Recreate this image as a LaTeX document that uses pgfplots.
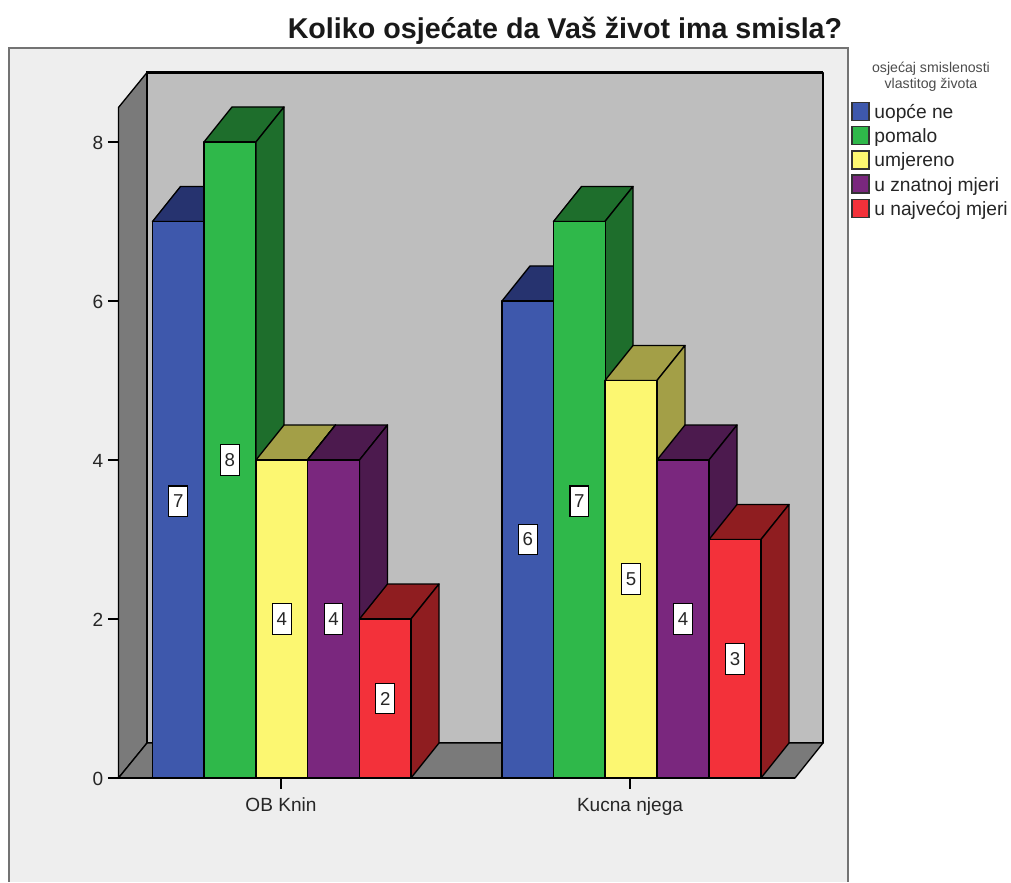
\documentclass[border=0pt]{standalone}
\usepackage{pgfplots}
\pgfplotsset{compat=1.18}
\usepackage{fontspec}
\setmainfont{Liberation Sans}
\definecolor{panel}{HTML}{EEEEEE}
\definecolor{wall}{HTML}{BEBEBE}
\definecolor{side}{HTML}{7A7A7A}
\definecolor{cA}{HTML}{3E58AC}\definecolor{dA}{HTML}{26336F}
\definecolor{cB}{HTML}{2FB84A}\definecolor{dB}{HTML}{1E6E2C}
\definecolor{cC}{HTML}{FCF771}\definecolor{dC}{HTML}{A39F47}
\definecolor{cD}{HTML}{7A277E}\definecolor{dD}{HTML}{4C1A4E}
\definecolor{cE}{HTML}{F3313A}\definecolor{dE}{HTML}{8F1D20}
\tikzset{
  face/.style={draw=black,line width=1pt,line join=round},
  val/.style={draw=black,fill=white,line width=0.8pt,inner sep=0pt,minimum width=14pt,minimum height=23pt,font=\fontsize{14}{15}\selectfont,text=black!85},
}
\pgfplotsset{
  front/.style={ybar,bar shift=0pt,bar width=38.8pt,face,forget plot},
}
\begin{document}
\begin{tikzpicture}
\begin{axis}[
  scale only axis,width=507.4pt,height=502.9pt,
  xmin=118.5,xmax=795,ymin=0,ymax=8.434,
  clip=false,axis on top,
  axis x line=bottom,axis y line=left,
  axis line style={-,black,line width=1.1pt},
  xtick={281,630},xticklabels={OB Knin,Kucna njega},
  ytick={0,2,4,6,8},
  tick align=outside,major tick length=8pt,
  tick style={black,line width=0.9pt},
  /pgf/number format/assume math mode=true,
  tick label style={font=\fontsize{14.3}{15}\selectfont,text=black!85},
  xticklabel style={yshift=-3.5pt},
  yticklabel style={yshift=-0.8pt},
  legend cell align=left,
  legend image code/.code={\draw[#1,line width=1.1pt] (0pt,-6.75pt) rectangle (12.75pt,6.75pt);},
  legend style={at={(axis cs:851,8.542)},anchor=north west,draw=none,fill=none,inner sep=0pt,
    row sep=0pt,column sep=3.5pt,font=\fontsize{14.4}{15}\selectfont,text=black!85,
    nodes={inner sep=0pt,text height=14.35pt,text depth=3.85pt}},
]
% page and chart panel
\addplot[forget plot,draw=none,fill=white] coordinates {(0,-1.308)(1011,-1.308)(1011,9.786)(0,9.786)} --cycle;
\addplot[forget plot,draw=none,fill=panel] coordinates {(9,-1.308)(848,-1.308)(848,9.182)(9,9.182)} --cycle;
\addplot[forget plot,draw=black!55,line width=1.2pt] coordinates {(9,-1.308)(9,9.182)(848,9.182)(848,-1.308)};
% walls and floor
\addplot[forget plot,fill=wall,face] coordinates {(147,0.44)(823,0.44)(823,8.874)(147,8.874)} --cycle;
\addplot[forget plot,fill=side,face] coordinates {(118.5,0)(147,0.44)(147,8.874)(118.5,8.434)} --cycle;
\addplot[forget plot,fill=side,face] coordinates {(118.5,0)(795,0)(823,0.44)(147,0.44)} --cycle;
\addplot[forget plot,draw=black,line width=1.8pt] coordinates {(147,0.44)(147,8.874)(823,8.874)};
% series 1: uopce ne
\addplot[forget plot,fill=dA,face] coordinates {(152.5,7)(180.5,7.44)(232,7.44)(204,7)} --cycle;
\addplot[forget plot,fill=dA,face] coordinates {(204,0)(232,0.44)(232,7.44)(204,7)} --cycle;
\addplot[forget plot,fill=dA,face] coordinates {(502,6)(530,6.44)(581.5,6.44)(553.5,6)} --cycle;
\addplot[forget plot,fill=dA,face] coordinates {(553.5,0)(581.5,0.44)(581.5,6.44)(553.5,6)} --cycle;
\addplot[front,fill=cA] coordinates {(178.2,7)(527.8,6)};
% series 2: pomalo
\addplot[forget plot,fill=dB,face] coordinates {(204,8)(232,8.44)(284,8.44)(256,8)} --cycle;
\addplot[forget plot,fill=dB,face] coordinates {(256,0)(284,0.44)(284,8.44)(256,8)} --cycle;
\addplot[forget plot,fill=dB,face] coordinates {(553.5,7)(581.5,7.44)(633,7.44)(605,7)} --cycle;
\addplot[forget plot,fill=dB,face] coordinates {(605,0)(633,0.44)(633,7.44)(605,7)} --cycle;
\addplot[front,fill=cB] coordinates {(229.9,8)(579.3,7)};
% series 3: umjereno
\addplot[forget plot,fill=dC,face] coordinates {(256,4)(284,4.44)(335.5,4.44)(307.5,4)} --cycle;
\addplot[forget plot,fill=dC,face] coordinates {(307.5,0)(335.5,0.44)(335.5,4.44)(307.5,4)} --cycle;
\addplot[forget plot,fill=dC,face] coordinates {(605,5)(633,5.44)(685,5.44)(657,5)} --cycle;
\addplot[forget plot,fill=dC,face] coordinates {(657,0)(685,0.44)(685,5.44)(657,5)} --cycle;
\addplot[front,fill=cC] coordinates {(281.8,4)(631,5)};
% series 4: u znatnoj mjeri
\addplot[forget plot,fill=dD,face] coordinates {(307.5,4)(335.5,4.44)(387.5,4.44)(359.5,4)} --cycle;
\addplot[forget plot,fill=dD,face] coordinates {(359.5,0)(387.5,0.44)(387.5,4.44)(359.5,4)} --cycle;
\addplot[forget plot,fill=dD,face] coordinates {(657,4)(685,4.44)(737,4.44)(709,4)} --cycle;
\addplot[forget plot,fill=dD,face] coordinates {(709,0)(737,0.44)(737,4.44)(709,4)} --cycle;
\addplot[front,fill=cD] coordinates {(333.5,4)(683,4)};
% series 5: u najvecoj mjeri
\addplot[forget plot,fill=dE,face] coordinates {(359.5,2)(387.5,2.44)(439,2.44)(411,2)} --cycle;
\addplot[forget plot,fill=dE,face] coordinates {(411,0)(439,0.44)(439,2.44)(411,2)} --cycle;
\addplot[forget plot,fill=dE,face] coordinates {(709,3)(737,3.44)(789,3.44)(761,3)} --cycle;
\addplot[forget plot,fill=dE,face] coordinates {(761,0)(789,0.44)(789,3.44)(761,3)} --cycle;
\addplot[front,fill=cE] coordinates {(385.2,2)(735,3)};
% legend
\addlegendimage{fill=cA,draw=black!80}\addlegendentry{uopće ne}
\addlegendimage{fill=cB,draw=black!80}\addlegendentry{pomalo}
\addlegendimage{fill=cC,draw=black!80}\addlegendentry{umjereno}
\addlegendimage{fill=cD,draw=black!80}\addlegendentry{u znatnoj mjeri}
\addlegendimage{fill=cE,draw=black!80}\addlegendentry{u najvećoj mjeri}
% value labels
\node[val] at (axis cs:178.2,3.48) {7};
\node[val] at (axis cs:229.9,4) {8};
\node[val] at (axis cs:281.8,2) {4};
\node[val] at (axis cs:333.5,2) {4};
\node[val] at (axis cs:385.2,1) {2};
\node[val] at (axis cs:527.8,3) {6};
\node[val] at (axis cs:579.3,3.48) {7};
\node[val] at (axis cs:631,2.5) {5};
\node[val] at (axis cs:683,2) {4};
\node[val] at (axis cs:735,1.5) {3};
% titles
\node[font=\bfseries\fontsize{21.5}{24}\selectfont,text=black!90] at (axis cs:565,9.40) {Koliko osjećate da Vaš život ima smisla?};
\node[font=\fontsize{10.6}{12}\selectfont,text=black!70,align=center,inner sep=0pt] at (axis cs:931,8.82) {osjećaj smislenosti\\vlastitog života};
\end{axis}
\end{tikzpicture}
\end{document}
